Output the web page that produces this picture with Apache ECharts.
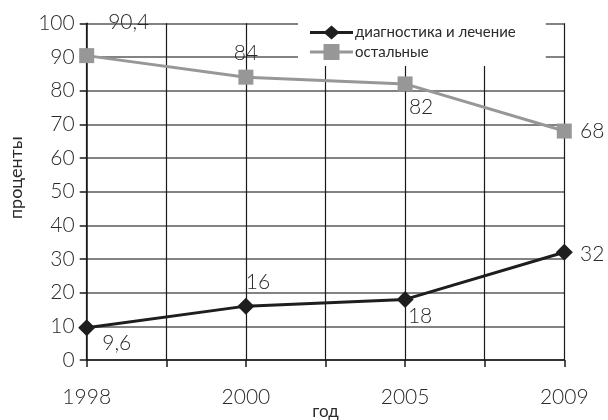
<!DOCTYPE html>
<html>
<head>
<meta charset="utf-8">
<script src="https://cdn.jsdelivr.net/npm/echarts@6/dist/echarts.min.js"></script>
<style>
  html, body { margin: 0; padding: 0; background: #fff; }
  #chart { width: 608px; height: 420px; }
</style>
</head>
<body>
<div id="chart"></div>
<script>
// Survey years and shares (percent)
const years = ['1998', '2000', '2005', '2009'];
const diagnosis = [9.6, 16, 18, 32];
const others = [90.4, 84, 82, 68];
const seriesNames = ['диагностика и лечение', 'остальные'];
const yTicks = [0, 10, 20, 30, 40, 50, 60, 70, 80, 90, 100];

// Each year sits on every second grid slot; the in-between slots are unlabeled.
const slots = [];
years.forEach((y, i) => { slots.push(y); if (i < years.length - 1) slots.push(''); });

const FONT = 'Lato';
const TEXT = '#2a2a2a';
const fmt = v => String(v).replace('.', ',');

// per-point label placement
const diagLabelPos = [[30, 16], [12, -24], [15, 17], [28, 2]];
const otherLabelPos = [[42, -33], [0, -24], [16, 23], [28, 0]];

// legend icons: line stroke with the series marker on top (43 x 16 box)
const iconDiamond = 'path://M0,6.5 L43,6.5 L43,9.5 L0,9.5 Z M21.5,1 L29.5,8 L21.5,15 L13.5,8 Z';
const iconSquare = 'path://M0,6.5 L43,6.5 L43,9.5 L0,9.5 Z M13.5,0 L29.5,0 L29.5,16 L13.5,16 Z';

function makeData(values, offsets) {
  const out = [];
  values.forEach((v, i) => {
    out.push({
      value: v,
      label: {
        show: true, position: 'inside',
        offset: offsets[i],
        formatter: p => fmt(p.value),
        color: TEXT, fontSize: 21, fontFamily: FONT, fontWeight: 300
      }
    });
    if (i < values.length - 1) out.push(null);
  });
  return out;
}

const chart = echarts.init(document.getElementById('chart'));
chart.setOption({
  animation: false,
  backgroundColor: '#fff',
  textStyle: { fontFamily: FONT },
  grid: { left: 86.7, right: 43.7, top: 23.3, bottom: 60, containLabel: false, outerBoundsMode: 'none' },
  legend: {
    left: 298, top: 23,
    orient: 'vertical',
    backgroundColor: '#fff',
    padding: [2, 30, 6, 12],
    itemWidth: 43, itemHeight: 16, itemGap: 4,
    textStyle: { color: TEXT, fontSize: 15, fontFamily: FONT, padding: [0, 0, 0, -3] },
    data: [
      { name: seriesNames[0], icon: iconDiamond },
      { name: seriesNames[1], icon: iconSquare }
    ]
  },
  xAxis: {
    type: 'category',
    data: slots,
    boundaryGap: false,
    name: 'год', nameLocation: 'middle', nameGap: 43, nameMoveOverlap: false,
    nameTextStyle: { color: TEXT, fontSize: 17, fontFamily: FONT, letterSpacing: 2 },
    axisLine: { lineStyle: { color: '#1a1a1a', width: 1.5 } },
    axisTick: { show: true, length: 7, interval: 0, lineStyle: { color: '#1a1a1a', width: 1.5 } },
    axisLabel: { interval: 0, color: TEXT, fontSize: 21, fontFamily: FONT, fontWeight: 300, margin: 27 },
    splitLine: { show: true, interval: 0, lineStyle: { color: '#1a1a1a', width: 1.2 } }
  },
  yAxis: {
    type: 'value',
    min: 0, max: 100, interval: 10,
    name: 'проценты', nameLocation: 'middle', nameGap: 62, nameMoveOverlap: false,
    nameTextStyle: { color: TEXT, fontSize: 18, fontFamily: FONT, padding: [0, 0, 0, 28] },
    axisLine: { show: true, lineStyle: { color: '#1a1a1a', width: 1.5 } },
    axisTick: { show: true, length: 7, lineStyle: { color: '#1a1a1a', width: 1.5 } },
    axisLabel: { color: TEXT, fontSize: 21, fontFamily: FONT, fontWeight: 300, margin: 12,
      formatter: v => yTicks.includes(v) ? String(v) : '' },
    splitLine: { show: true, lineStyle: { color: '#5a5a5a', width: 1.5 } }
  },
  series: [
    {
      name: seriesNames[0], type: 'line',
      data: makeData(diagnosis, diagLabelPos),
      connectNulls: true,
      symbol: 'diamond', symbolSize: 17,
      lineStyle: { color: '#1e1e1e', width: 3 },
      itemStyle: { color: '#1e1e1e' },
      z: 4
    },
    {
      name: seriesNames[1], type: 'line',
      data: makeData(others, otherLabelPos),
      connectNulls: true,
      symbol: 'rect', symbolSize: 15,
      lineStyle: { color: '#979797', width: 3 },
      itemStyle: { color: '#979797' },
      z: 3
    }
  ]
});
</script>
</body>
</html>
